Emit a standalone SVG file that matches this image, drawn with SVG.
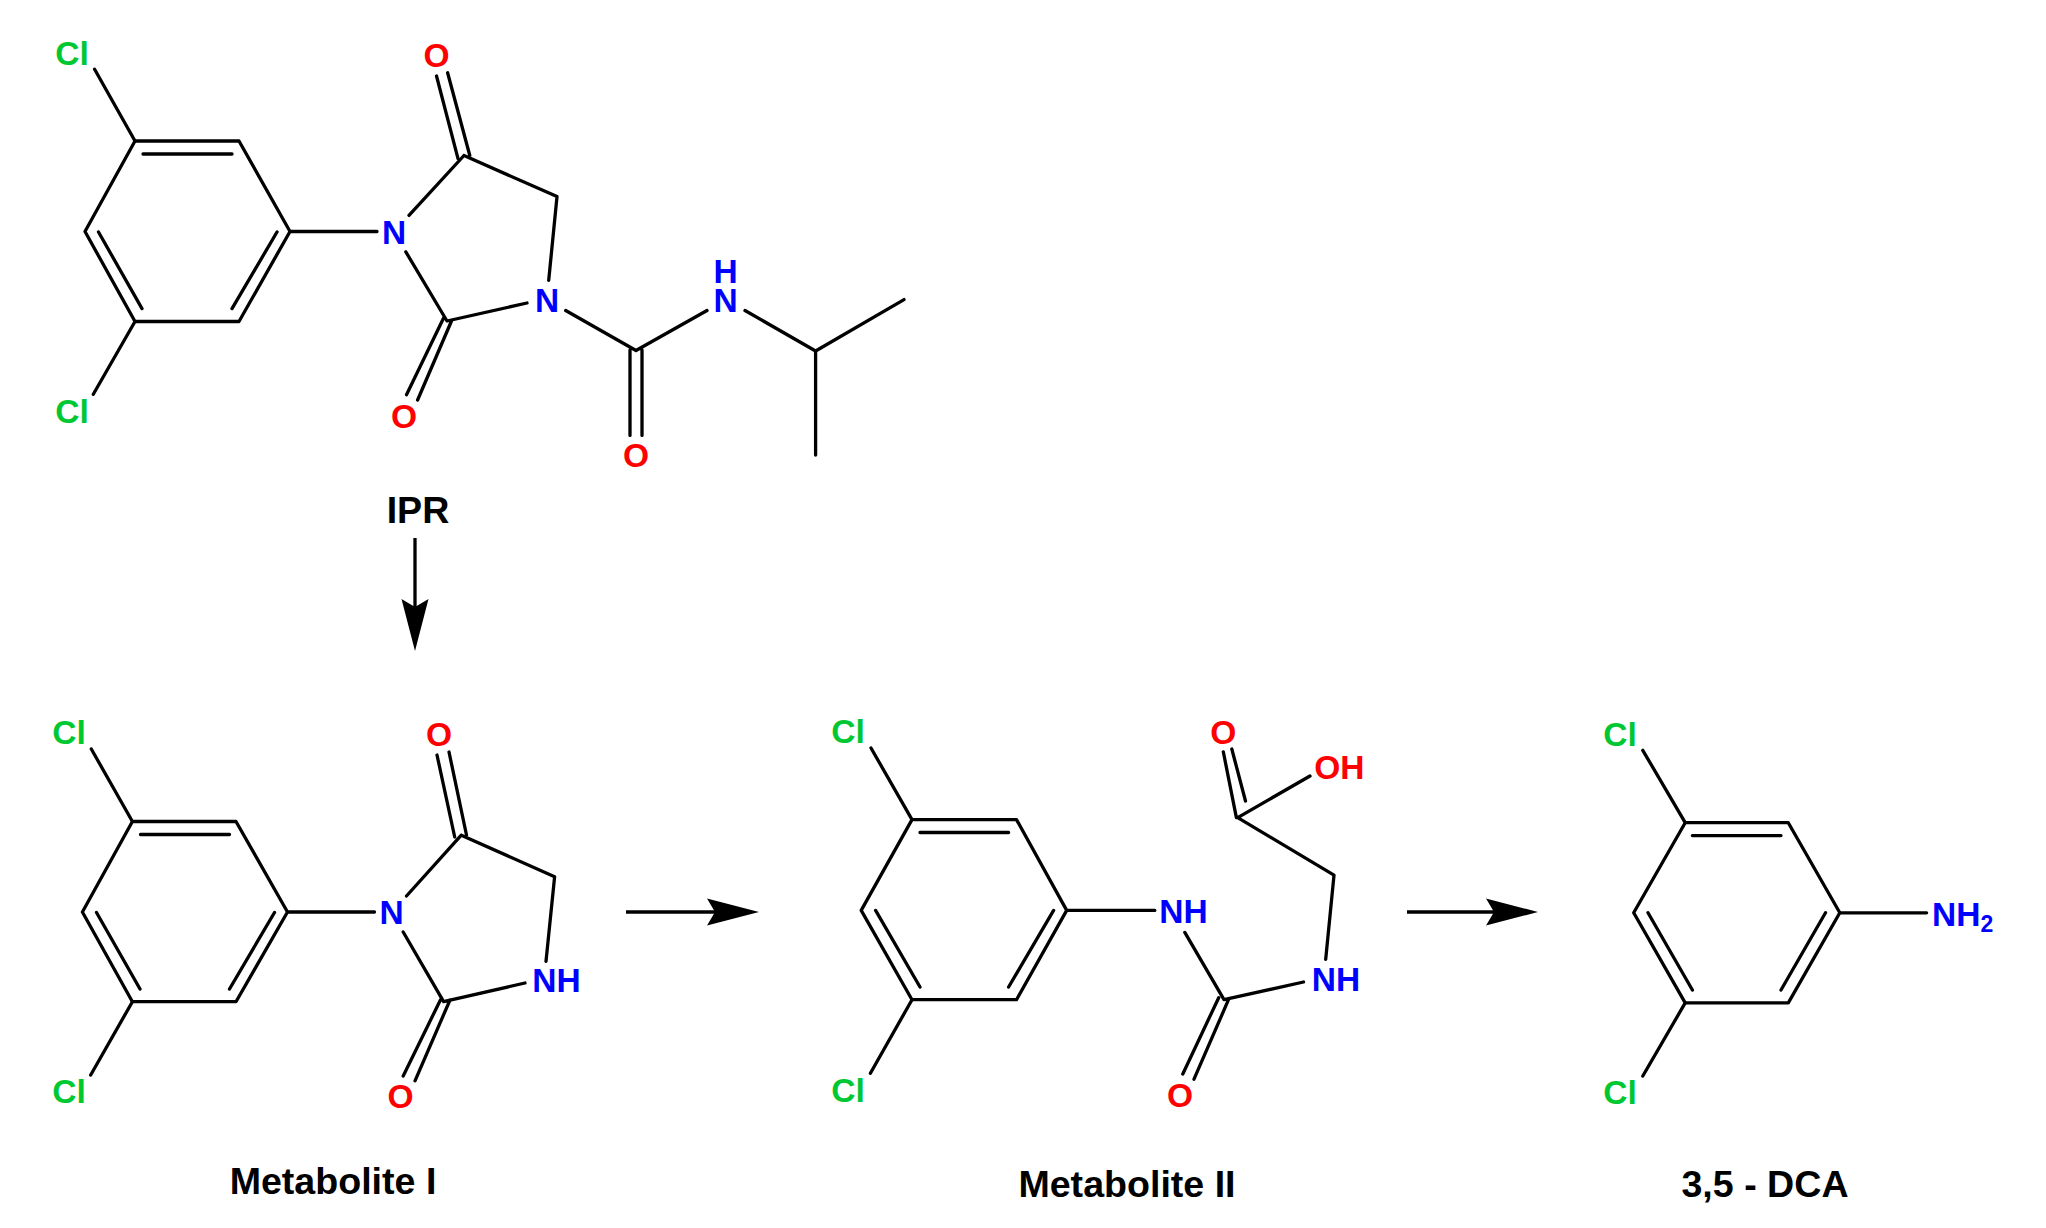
<svg xmlns="http://www.w3.org/2000/svg" width="2046" height="1228" viewBox="0 0 2046 1228">
<style>
.b{stroke:#000;stroke-width:3.3;fill:none;stroke-linecap:round;stroke-linejoin:round}
.a{stroke:#000;stroke-width:3.3;fill:none}
text{font-family:"Liberation Sans",Arial,sans-serif;text-anchor:middle;font-weight:700}
.at{font-size:33.5px}
.cl{fill:#00c832}
.o{fill:#ff0000}
.n{fill:#0000ff}
.t{font-size:37.6px;fill:#000}
</style>
<defs>
<marker id="head" markerUnits="userSpaceOnUse" markerWidth="54" markerHeight="28" refX="8" refY="14" orient="auto"><path d="M0,0.5 L52,14 L0,27.5 L8,14 Z" fill="#000"/></marker>
</defs>
<rect width="2046" height="1228" fill="#fff"/>
<g id="connectors">
<line class="a" x1="415" y1="538" x2="415" y2="607" marker-end="url(#head)"/>
<line class="a" x1="626" y1="912" x2="715" y2="912" marker-end="url(#head)"/>
<line class="a" x1="1407" y1="912" x2="1494" y2="912" marker-end="url(#head)"/>
</g>
<g id="IPR">
<path class="b" d="M135,141H239L290,231.5L239,321.5H135L85,231.5Z"/>
<path class="b" d="M143,154H232M277,232L232,308.6M98.5,232L142,308.6"/>
<path class="b" d="M94.6,69.3L135,141M93.3,394.3L135,321.5M290,231.5H377M409,215.4L464,155.5M436.5,76L458,158.6M447.6,72.8L469.8,155.5M464,155.5L557,196.6L548.7,280.4M527,303L447,321L405.8,251.8M443.6,318L406.5,394.7M451.5,321L417.6,400M565.7,310.5L636,350.5L707,310.5M630,350V435.4M642,350V435.4M745,310.5L815.6,351L904,299.6M815.6,351V455"/>
<text class="at cl" x="72" y="65">Cl</text>
<text class="at cl" x="72" y="423">Cl</text>
<text class="at o" x="436.5" y="67">O</text>
<text class="at n" x="394" y="244">N</text>
<text class="at n" x="547" y="312">N</text>
<text class="at o" x="404" y="428">O</text>
<text class="at n"><tspan x="725.5" y="283">H</tspan><tspan x="725.5" y="312">N</tspan></text>
<text class="at o" x="636" y="467">O</text>
<text class="t" x="418" y="523">IPR</text>
</g>
<g id="MetaboliteI">
<path class="b" d="M132.4,821.5H236L287.5,912L236,1001.7H132.4L82.4,912Z"/>
<path class="b" d="M140.5,834.5H229.5M274.5,912.5L229.5,989M96.5,912.5L140,989"/>
<path class="b" d="M91.3,749L132.4,821.5M90.7,1075L132.4,1001.7M287.5,912H374.5M406.5,896L461.3,835.2M437,755L454.7,837M449,752L466.5,835M461.3,835.2L554.6,876.8L546,961.4M525,983L443.6,1001.7L403.2,932M440.4,1000L403.2,1076M450,1000L415,1080.8"/>
<text class="at cl" x="69" y="744">Cl</text>
<text class="at cl" x="69" y="1103">Cl</text>
<text class="at o" x="439" y="746">O</text>
<text class="at n" x="391.5" y="924">N</text>
<text class="at n" x="556.5" y="992">NH</text>
<text class="at o" x="400.6" y="1108">O</text>
<text class="t" x="333" y="1194">Metabolite I</text>
</g>
<g id="MetaboliteII">
<path class="b" d="M912,819.6H1016.5L1066.7,910.4L1016.5,999.7H912L861.2,910.4Z"/>
<path class="b" d="M920,832.5H1008.6M875.6,910.4L920,987M1053.6,910.4L1008.6,987"/>
<path class="b" d="M871,748L912,819.6M870.4,1073.3L912,999.7M1066.7,910.4H1154.8M1184.8,932.4L1224,999.7L1303.5,982M1325.7,959.4L1334,875.2L1237.7,817.6L1310,776M1223.3,751.8L1236.4,817.6M1231.8,749L1245.5,801M1218.7,997.7L1182.8,1074M1228.5,999.7L1194,1079.2"/>
<text class="at cl" x="848" y="743">Cl</text>
<text class="at cl" x="848" y="1102">Cl</text>
<text class="at n" x="1183.5" y="923">NH</text>
<text class="at n" x="1336" y="991">NH</text>
<text class="at o" x="1223.3" y="743.5">O</text>
<text class="at o" x="1339.4" y="779">OH</text>
<text class="at o" x="1180" y="1107">O</text>
<text class="t" x="1127" y="1197">Metabolite II</text>
</g>
<g id="DCA">
<path class="b" d="M1685.2,822.7H1788.3L1839.8,912.8L1788.3,1002.9H1685.2L1633.7,912.8Z"/>
<path class="b" d="M1692.4,835.6H1781M1648,912.8L1692.4,990M1825.5,912.8L1781,990"/>
<path class="b" d="M1642.8,750.3L1685.2,822.7M1642.8,1076L1685.2,1002.9M1839.8,912.8H1926.6"/>
<text class="at cl" x="1620" y="746">Cl</text>
<text class="at cl" x="1620" y="1104">Cl</text>
<text class="at n" x="1932" y="925.5" style="text-anchor:start">NH<tspan font-size="23" dy="6.5">2</tspan></text>
<text class="t" x="1765" y="1197">3,5 - DCA</text>
</g>
</svg>
